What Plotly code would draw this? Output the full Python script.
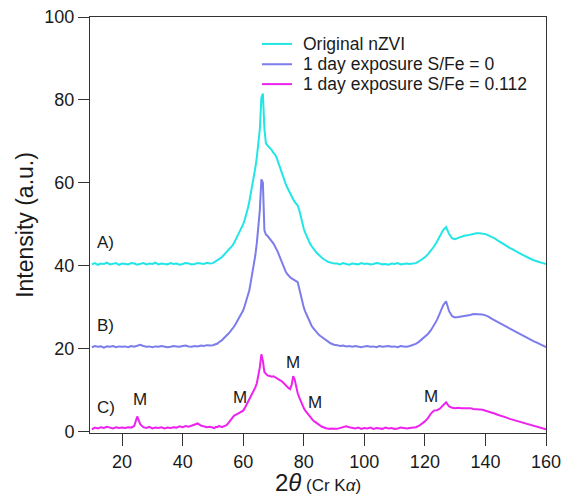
import plotly.graph_objects as go

# ---- 2-theta positions (degrees) ----
x_left = [10, 11, 12, 13, 14, 15, 16, 17, 18, 19, 20, 21, 22, 23, 24, 25, 26, 27, 28, 29,
          30, 31, 32, 33, 34, 35, 36, 37, 38, 39, 40, 41, 42, 43, 44, 45, 46, 47, 48, 49]
x_mid = [50, 50.5, 51, 51.5, 52, 52.5, 53, 53.5, 54, 54.5, 55, 55.5, 56, 56.5, 57, 57.5,
         58, 58.5, 59, 59.5, 60, 60.5, 61, 61.5, 62, 62.5, 63, 63.5, 64, 64.5, 65, 65.5,
         66, 66.5, 67, 67.5, 68, 68.5, 69, 69.5, 70, 70.5, 71, 71.5, 72, 72.5, 73, 73.5,
         74, 74.5, 75, 75.5, 76, 76.5, 77, 77.5, 78, 78.5, 79, 79.5, 80, 80.5, 81, 81.5,
         82, 82.5, 83, 83.5, 84, 84.5, 85, 85.5, 86, 86.5, 87, 87.5, 88, 88.5, 89, 89.5, 90]
x_right = [91, 92, 93, 94, 95, 96, 97, 98, 99, 100, 101, 102, 103, 104, 105, 106, 107, 108,
           109, 110, 111, 112, 113, 114, 115, 116, 117, 118, 119, 120, 121, 122, 123, 124,
           125, 126, 127, 128, 129, 130, 131, 132, 133, 134, 135, 136, 137, 138, 139, 140,
           141, 142, 143, 144, 145, 146, 147, 148, 149, 150, 151, 152, 153, 154, 155, 156,
           157, 158, 159, 160]

# ---- A) Original nZVI ----
a_left = [40.3, 40.6, 40.2, 40.5, 40.4, 40.7, 40.3, 40.4, 40.6, 40.2, 40.5, 40.4, 40.3, 40.6,
          40.5, 40.2, 40.4, 40.6, 40.3, 40.5, 40.4, 40.7, 40.3, 40.5, 40.4, 40.3, 40.6, 40.4,
          40.5, 40.2, 40.4, 40.6, 40.5, 40.3, 40.4, 40.6, 40.5, 40.4, 40.7, 40.5]
a_mid = [40.6, 40.8, 41.0, 41.2, 41.5, 41.8, 42.1, 42.5, 42.8, 43.2, 43.6, 44.0, 44.5, 44.9,
         45.5, 46.2, 46.9, 47.6, 48.4, 49.1, 50.0, 51.1, 52.3, 53.7, 55.4, 57.3, 59.3, 61.5,
         63.6, 66.2, 69.5, 73.0, 80.5, 81.5, 73.0, 69.5, 69.0, 68.6, 68.4, 67.8, 67.2, 66.8,
         66.1, 65.0, 63.9, 62.8, 61.7, 60.5, 59.8, 58.9, 58.1, 57.4, 56.6, 56.0, 55.4, 55.0,
         54.5, 53.4, 51.8, 50.2, 48.9, 47.9, 47.0, 46.2, 45.4, 44.8, 44.2, 43.7, 43.3, 42.9,
         42.5, 42.2, 41.9, 41.6, 41.3, 41.1, 40.9, 40.8, 40.6, 40.6, 40.5]
a_right = [40.5, 40.3, 40.6, 40.4, 40.2, 40.5, 40.4, 40.3, 40.6, 40.4, 40.5, 40.3, 40.4, 40.6,
           40.5, 40.3, 40.4, 40.2, 40.5, 40.4, 40.6, 40.3, 40.4, 40.5, 40.4, 40.5,
           40.6, 41.0, 41.4, 42.0, 42.7, 43.6, 44.6, 45.8, 47.2, 48.5, 49.3, 47.6, 46.6, 46.4,
           46.7, 47.0, 47.2, 47.3, 47.5, 47.6, 47.8, 47.8, 47.7, 47.6, 47.3, 47.0, 46.6, 46.1,
           45.6, 45.1, 44.7, 44.3, 43.9, 43.4, 43.1, 42.7, 42.3, 41.9, 41.6, 41.3, 41.0, 40.8,
           40.6, 40.4]

# ---- B) 1 day exposure S/Fe = 0 ----
b_left = [20.3, 20.6, 20.4, 20.5, 20.2, 20.5, 20.4, 20.6, 20.3, 20.5, 20.4, 20.5, 20.3, 20.6,
          20.4, 20.7, 20.9, 20.6, 20.4, 20.5, 20.3, 20.5, 20.4, 20.6, 20.5, 20.3, 20.4, 20.6,
          20.5, 20.4, 20.6, 20.7, 20.5, 20.4, 20.6, 20.5, 20.7, 20.6, 20.8, 20.7]
b_mid = [20.8, 20.9, 21.0, 21.2, 21.5, 21.7, 22.0, 22.4, 22.7, 23.1, 23.5, 23.9, 24.3, 24.7,
         25.3, 25.9, 26.5, 27.1, 27.8, 28.4, 29.2, 30.3, 31.4, 32.7, 34.0, 36.0, 38.0, 40.2,
         42.5, 45.5, 49.5, 53.5, 60.8, 60.0, 48.5, 47.5, 47.2, 46.8, 46.3, 45.8, 45.3, 44.7,
         44.1, 43.2, 42.2, 41.2, 40.2, 39.3, 38.6, 38.0, 37.5, 37.2, 36.9, 36.7, 36.5, 36.3,
         36.0, 34.5, 32.7, 31.2, 29.9, 28.9, 28.0, 27.1, 26.3, 25.6, 25.0, 24.5, 24.1, 23.7,
         23.3, 23.0, 22.7, 22.4, 22.1, 21.8, 21.6, 21.4, 21.2, 21.0, 20.9]
b_right = [20.8, 20.6, 20.7, 20.5, 20.6, 20.4, 20.6, 20.5, 20.3, 20.5, 20.6, 20.4, 20.5, 20.3,
           20.6, 20.4, 20.5, 20.6, 20.4, 20.5, 20.3, 20.6, 20.5, 20.4, 20.6,
           20.8, 21.1, 21.6, 22.2, 22.8, 23.5, 24.4, 25.6, 26.9, 28.6, 30.4, 31.4, 29.0, 27.8,
           27.5, 27.6, 27.7, 27.8, 27.9, 28.1, 28.3, 28.3, 28.3, 28.2, 28.0, 27.7, 27.2, 26.8,
           26.4, 26.0, 25.5, 25.1, 24.8, 24.4, 24.0, 23.6, 23.2, 22.8, 22.4, 22.0, 21.7, 21.4,
           21.0, 20.7, 20.3]

# ---- C) 1 day exposure S/Fe = 0.112 ----
c_left = [0.5, 0.9, 0.7, 1.0, 0.8, 1.1, 0.9, 0.7, 1.0, 0.8, 0.9, 0.8, 1.0, 0.9, 1.3, 3.6,
          1.7, 1.0, 0.8, 1.1, 0.7, 0.9, 0.8, 1.0, 0.7, 0.9, 0.8, 1.0, 0.9, 1.2, 1.0, 1.3,
          1.1, 1.4, 1.6, 1.9, 1.4, 1.2, 1.0, 1.1]
c_mid = [1.0, 0.8, 1.1, 1.0, 1.3, 1.1, 1.0, 1.2, 1.3, 1.5, 1.9, 2.4, 2.9, 3.4, 3.8, 4.0,
         4.2, 4.3, 4.5, 4.7, 5.0, 5.6, 6.3, 7.0, 7.6, 8.3, 9.0, 9.8, 10.6, 11.6, 13.5, 15.5,
         18.6, 17.0, 14.3, 13.8, 13.5, 13.4, 13.3, 13.2, 13.3, 13.1, 13.0, 12.7, 12.4, 12.2,
         11.9, 11.6, 11.2, 10.8, 10.4, 10.2, 11.2, 13.3, 12.5, 10.4, 9.2, 8.2, 7.2, 6.3, 5.6,
         5.0, 4.5, 4.0, 3.6, 3.1, 2.7, 2.4, 2.1, 1.8, 1.5, 1.3, 1.1, 1.0, 0.8, 0.7, 0.7, 0.6,
         0.7, 0.6, 0.6]
c_right = [0.6, 0.8, 1.0, 1.2, 1.0, 0.8, 0.7, 0.9, 0.6, 0.8, 0.7, 0.9, 0.6, 0.8, 0.7, 0.6,
           0.9, 0.7, 0.8, 0.6, 0.7, 0.9, 0.8, 0.7, 0.8, 0.9, 1.0,
           1.3, 1.8, 2.4, 3.2, 4.3, 5.0, 5.1, 5.5, 6.2, 7.0, 6.0, 5.7, 5.6, 5.7, 5.6, 5.6, 5.5,
           5.6, 5.4, 5.4, 5.3, 5.2, 5.0, 4.8, 4.5, 4.3, 4.0, 3.8, 3.5, 3.3, 3.0, 2.8, 2.6, 2.4,
           2.2, 2.0, 1.8, 1.5, 1.3, 1.1, 0.9, 0.7, 0.5]

two_theta = x_left + x_mid + x_right
series_names = ["Original nZVI", "1 day exposure S/Fe = 0", "1 day exposure S/Fe = 0.112"]
series_values = [a_left + a_mid + a_right, b_left + b_mid + b_right, c_left + c_mid + c_right]
series_colors = ["#22E6E6", "#7C7CEC", "#EE22EE"]

curve_labels = ["A)", "B)", "C)"]
curve_label_x = [11.0, 11.0, 11.0]
curve_label_y = [45.6, 25.6, 5.8]

m_x = [25.9, 58.9, 76.4, 83.7, 121.9]
m_y = [7.7, 8.2, 16.7, 7.0, 8.5]

x_ticks = [20, 40, 60, 80, 100, 120, 140, 160]
y_ticks = [0, 20, 40, 60, 80, 100]

for vals in series_values:
    assert len(vals) == len(two_theta), (len(vals), len(two_theta))

FONT = "Liberation Sans, Arial, sans-serif"
TXT = "#1a1a1a"
fig = go.Figure()
for name, vals, col in zip(series_names, series_values, series_colors):
    fig.add_trace(go.Scatter(x=two_theta, y=vals, mode="lines", name=name,
                             line=dict(color=col, width=2), showlegend=False))

# legend drawn as line samples + text (tight row spacing as in reference)
leg_x0, leg_x1, leg_tx = 66.2, 76.1, 79.0
leg_rows = [93.5, 88.6, 83.8]
for name, col, yy in zip(series_names, series_colors, leg_rows):
    fig.add_shape(type="line", xref="x", yref="y", x0=leg_x0, x1=leg_x1, y0=yy, y1=yy,
                  line=dict(color=col, width=2))
    fig.add_annotation(x=leg_tx, y=yy, text=name, showarrow=False, xanchor="left",
                       yanchor="middle", font=dict(size=17.5, color=TXT, family=FONT))

for t, xx, yy in zip(curve_labels, curve_label_x, curve_label_y):
    fig.add_annotation(x=xx, y=yy, text=t, showarrow=False, xanchor="left",
                       font=dict(size=17, color=TXT, family=FONT))
for xx, yy in zip(m_x, m_y):
    fig.add_annotation(x=xx, y=yy, text="M", showarrow=False,
                       font=dict(size=17, color=TXT, family=FONT))

axis_common = dict(showline=True, linecolor="#333", linewidth=1, mirror=True,
                   ticks="outside", tickcolor="#333", tickwidth=1,
                   showgrid=False, zeroline=False, ticklabeloverflow="allow",
                   tickfont=dict(size=18, color=TXT, family=FONT))

fig.update_layout(
    width=561, height=496,
    margin=dict(l=90, r=15, t=17, b=63, autoexpand=False),
    paper_bgcolor="white", plot_bgcolor="white",
    font=dict(family=FONT, color=TXT),
    xaxis=dict(range=[9.4, 160], tickvals=x_ticks, ticklen=12, automargin=False,
               title=dict(text="<span style='font-size:24px'>2<i>θ</i></span>"
                               "<span style='font-size:17px'> (Cr K<i>α</i>)</span>",
                          standoff=9),
               **axis_common),
    yaxis=dict(range=[-0.4, 100], tickvals=y_ticks, ticklen=11, automargin=False,
               title=dict(text="Intensity (a.u.)", font=dict(size=23, family=FONT, color=TXT),
                          standoff=4),
               **axis_common),
    showlegend=False,
)

fig.write_html("out.html")
